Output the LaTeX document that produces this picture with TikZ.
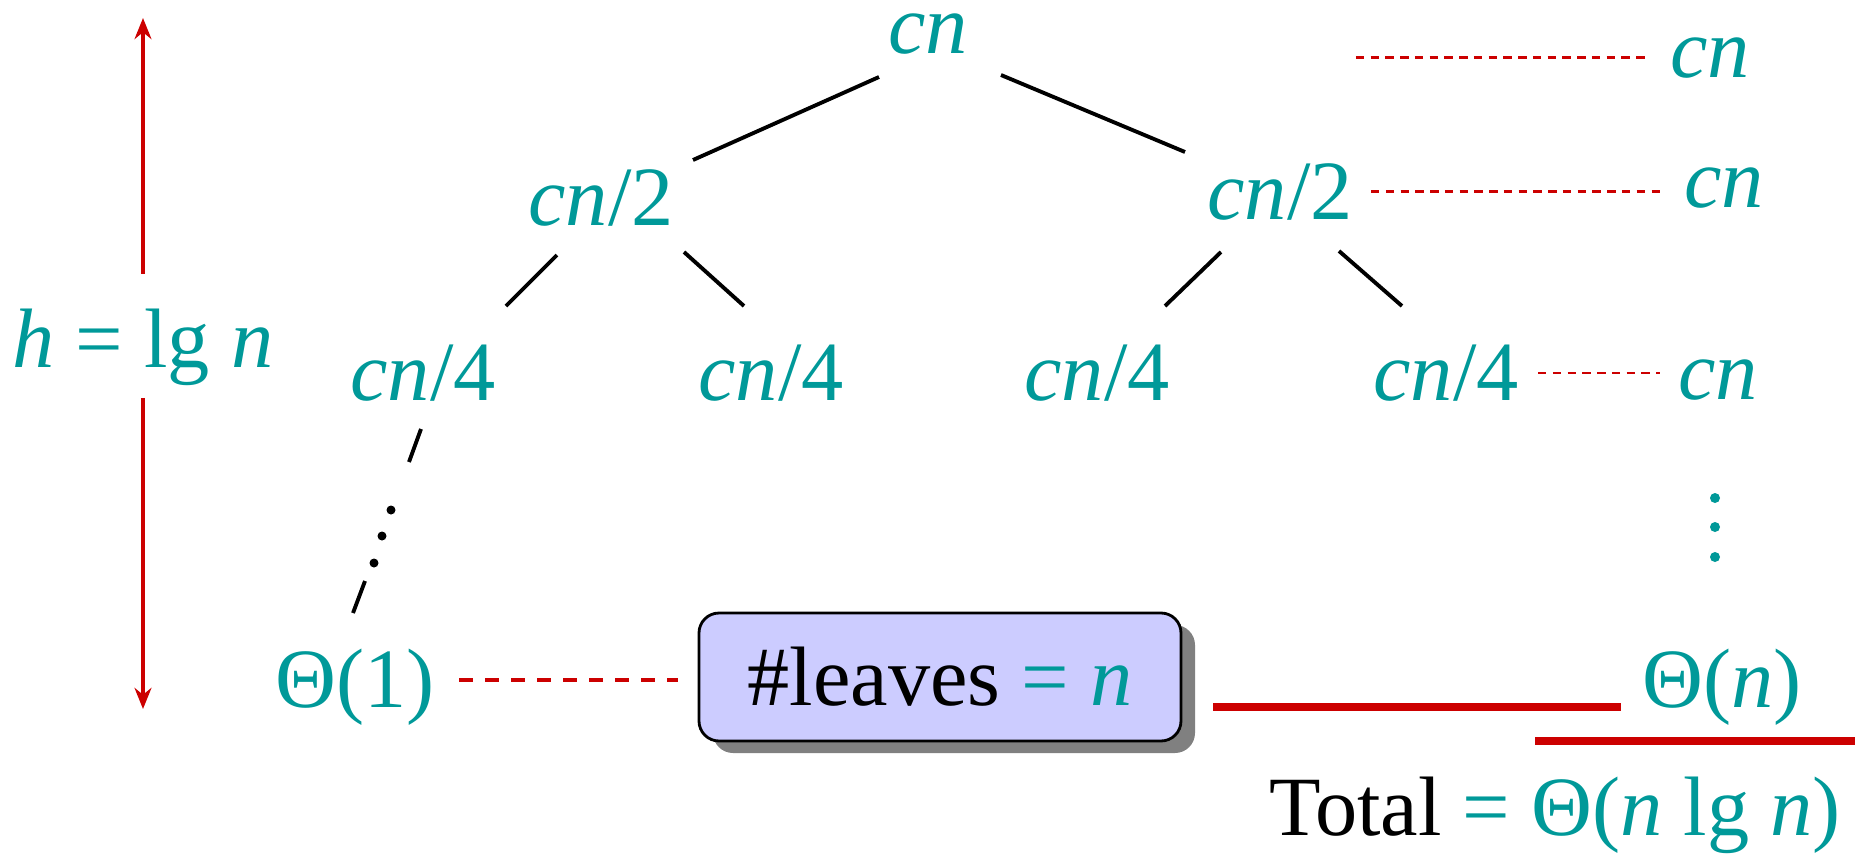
\documentclass[tikz,border=0pt]{standalone}
\usepackage{fontspec}
\setmainfont{Liberation Serif}
\usetikzlibrary{arrows.meta,calc,shadows}
\definecolor{recteal}{RGB}{0,153,153}
\definecolor{recred}{RGB}{204,0,0}
\definecolor{leafblue}{RGB}{204,204,255}

\begin{document}
\begin{tikzpicture}[
  every node/.style={font=\fontsize{24}{28}\selectfont, text=recteal},
  val/.style={anchor=base},
  edge/.style={line width=1.1pt},
  level/.style={draw=recred, dash pattern=on 2.4pt off 1.8pt, line width=0.6pt},
  leafdash/.style={draw=recred, dash pattern=on 4pt off 3.4pt, line width=1.1pt},
  sumline/.style={draw=recred, line width=2pt},
  hgt/.style={draw=recred, line width=1.3pt, -{Stealth[length=6pt,width=4.8pt]}},
  leafcount/.style={draw=black, fill=leafblue, rounded corners=0.2cm, line width=0.8pt,
    minimum width=4.82cm, minimum height=1.28cm,
    drop shadow={shadow xshift=0.14cm, shadow yshift=-0.12cm, fill=black!50, opacity=1}}
]
\useasboundingbox (0,0) rectangle (18.58,-8.54);

% Recursion tree
\node[val, inner sep=0pt] (root) at (9.28,-0.53) {\textit{cn}};
\node[val] (l2a) at (6.01,-2.25) {\textit{cn}/2};
\node[val] (l2b) at (12.80,-2.19) {\textit{cn}/2};
\node[val] (l3a) at (4.23,-4.00) {\textit{cn}/4};
\node[val] (l3b) at (7.71,-4.00) {\textit{cn}/4};
\node[val] (l3c) at (10.97,-4.00) {\textit{cn}/4};
\node[val] (l3d) at (14.46,-4.00) {\textit{cn}/4};
\node[val] (leaf) at (3.55,-7.07) {Θ(1)};

% Edges (they stop short of the labels)
\draw[edge] ([shift={(-0.49,-0.24)}]root.base) -- ([shift={(0.92,0.65)}]l2a.base);
\draw[edge] ([shift={(0.73,-0.22)}]root.base) -- ([shift={(-0.95,0.67)}]l2b.base);
\draw[edge] ([shift={(-0.44,-0.30)}]l2a.base) -- ([shift={(0.83,0.94)}]l3a.base);
\draw[edge] ([shift={(0.83,-0.27)}]l2a.base) -- ([shift={(-0.27,0.94)}]l3b.base);
\draw[edge] ([shift={(-0.59,-0.33)}]l2b.base) -- ([shift={(0.68,0.94)}]l3c.base);
\draw[edge] ([shift={(0.59,-0.32)}]l2b.base) -- ([shift={(-0.44,0.94)}]l3d.base);

% Path down to a leaf
\draw[edge] ([shift={(-0.02,-0.29)}]l3a.base) -- ([shift={(-0.14,-0.62)}]l3a.base);
\foreach \dx/\dy in {-0.32/-1.10, -0.41/-1.36, -0.49/-1.63}
  \fill ([shift={(\dx,\dy)}]l3a.base) circle (0.045);
\draw[edge] ([shift={(0.10,1.26)}]leaf.base) -- ([shift={(-0.02,0.94)}]leaf.base);

% Cost of each level
\node[val] (rcn1) at (17.10,-0.77) {\textit{cn}};
\node[val] (rcn2) at (17.24,-2.07) {\textit{cn}};
\node[val] (rcn3) at (17.18,-3.99) {\textit{cn}};
\draw[level] ([xshift=-3.02cm]rcn1.west) -- ([xshift=-0.12cm]rcn1.west);
\draw[level] ([xshift=0.06cm]l2b.east) -- ([xshift=-0.07cm]l2b.east -| rcn2.west);
\draw[level] ([xshift=0.07cm]l3d.east) -- ([xshift=-0.06cm]l3d.east -| rcn3.west);
\foreach \y in {4.98,5.27,5.57}
  \fill[recteal] (17.15,-\y) circle (0.05);

% Leaves
\node[leafcount] (box) at (9.40,-6.77) {\textcolor{black}{\#leaves} = \textit{n}};
\draw[leafdash, shorten <=0.12cm, shorten >=0.2cm]
  ([yshift=0.07cm]leaf.east) -- ([yshift=0.07cm]leaf.east -| box.west);
\node[val] (thn) at (17.22,-7.07) {Θ(\textit{n})};
\draw[sumline] ([xshift=0.31cm]box.east |- thn.base) -- ([xshift=-0.09cm]thn.west |- thn.base);

% Total
\draw[sumline] (15.35,-7.41) -- (18.55,-7.41);
\node[val, text=black] (total) at (15.55,-8.35) {Total \textcolor{recteal}{= Θ(\textit{n} lg \textit{n})}};

% Height of the tree
\node[val, inner sep=0pt] (hnode) at (1.43,-3.67) {\textit{h} = lg \textit{n}};
\coordinate (htop) at (1.43,-0.18);
\coordinate (hbot) at (1.43,-7.09);
\draw[hgt] ([yshift=0.34cm]hnode.north) -- (htop);
\draw[hgt] ([yshift=-0.12cm]hnode.south) -- (hbot);
\end{tikzpicture}
\end{document}
